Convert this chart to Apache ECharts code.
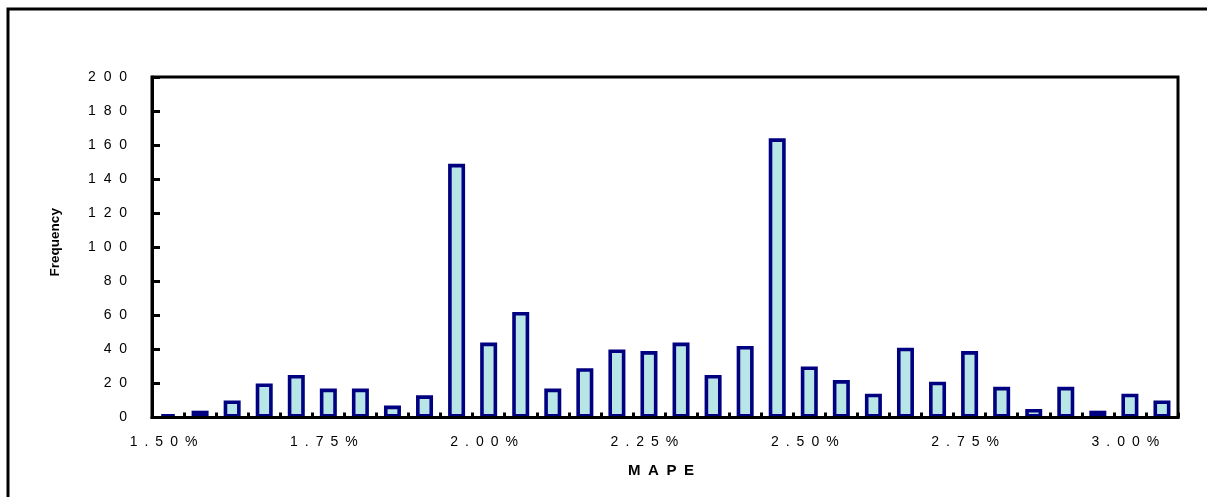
<!DOCTYPE html>
<html>
<head>
<meta charset="utf-8">
<script src="https://cdn.jsdelivr.net/npm/echarts@6/dist/echarts.min.js"></script>
<style>
  html, body { margin: 0; padding: 0; background: #fff; }
  #chart { width: 1207px; height: 497px; }
</style>
</head>
<body>
<div id="chart"></div>
<script>
// MAPE bins (lower edge of each 0.05% bin)
const mapeBins = ['1.50%', '1.55%', '1.60%', '1.65%', '1.70%', '1.75%', '1.80%', '1.85%',
  '1.90%', '1.95%', '2.00%', '2.05%', '2.10%', '2.15%', '2.20%', '2.25%',
  '2.30%', '2.35%', '2.40%', '2.45%', '2.50%', '2.55%', '2.60%', '2.65%',
  '2.70%', '2.75%', '2.80%', '2.85%', '2.90%', '2.95%', '3.00%', '3.05%'];

// Number of cases falling in each bin
const frequency = [2, 4, 10, 20, 25, 17, 17, 7,
  13, 149, 44, 62, 17, 29, 40, 39,
  44, 25, 42, 164, 30, 22, 14, 41,
  21, 39, 18, 5, 18, 4, 14, 10];

// Value axis range
const freqMin = 0;
const freqMax = 200;
const freqStep = 20;

const FONT = '"Liberation Sans", Arial, sans-serif';

// Spread characters apart, as in the printed labels
const spread = (s, gap) => String(s).split('').join(gap);

const chart = echarts.init(document.getElementById('chart'));

chart.setOption({
  animation: false,
  backgroundColor: '#fff',
  graphic: [{
    type: 'rect',
    shape: { x: 8, y: 9, width: 1400, height: 700 },
    style: { fill: 'none', stroke: '#000', lineWidth: 3 },
    silent: true
  }],
  grid: {
    left: 152, top: 77, right: 29, bottom: 79.5,
    show: true, borderColor: '#000', borderWidth: 3, backgroundColor: 'transparent'
  },
  xAxis: {
    type: 'category',
    data: mapeBins,
    boundaryGap: true,
    z: 5,
    name: spread('MAPE', '\u2002'),
    nameLocation: 'middle',
    nameGap: 46,
    nameTextStyle: {
      fontFamily: FONT, fontSize: 15, fontWeight: 'bold', color: '#000',
      padding: [0, 8, 0, 0]
    },
    axisLine: { lineStyle: { color: '#000', width: 3 } },
    axisTick: {
      show: true, inside: true, interval: 0, length: 5,
      lineStyle: { color: '#000', width: 3 }
    },
    axisLabel: {
      interval: 4,
      margin: 18,
      padding: [0, 9, 0, 0],
      fontFamily: FONT, fontSize: 14, color: '#000',
      formatter: v => spread(v, '\u2002')
    },
    splitLine: { show: false }
  },
  yAxis: {
    type: 'value',
    min: freqMin, max: freqMax, interval: freqStep,
    z: 5,
    name: 'Frequency',
    nameLocation: 'middle',
    nameGap: 90,
    nameRotate: 90,
    nameTextStyle: {
      fontFamily: FONT, fontSize: 13.5, fontWeight: 'bold', color: '#000',
      padding: [0, 0, 0, 10]
    },
    axisLine: { show: true, lineStyle: { color: '#000', width: 3 } },
    axisTick: { show: true, inside: true, length: 8, lineStyle: { color: '#000', width: 3 } },
    axisLabel: {
      margin: 25,
      fontFamily: FONT, fontSize: 14, color: '#000',
      formatter: v => spread(v, '\u2007')
    },
    splitLine: { show: false }
  },
  series: [{
    type: 'bar',
    data: frequency,
    barWidth: 17,
    itemStyle: { color: '#B8E6E6', borderColor: '#000080', borderWidth: 3.6 }
  }]
});
</script>
</body>
</html>
